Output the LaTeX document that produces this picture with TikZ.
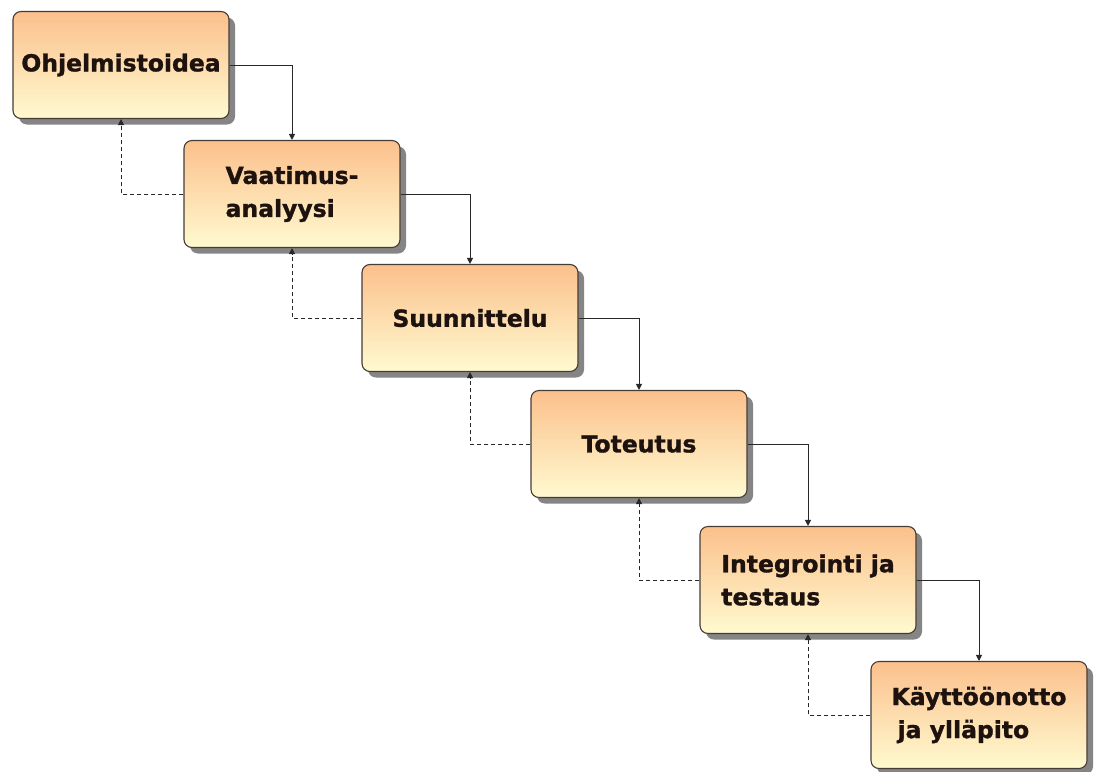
\documentclass[tikz,border=0pt]{standalone}
\usepackage{fontspec}
\setmainfont{DejaVu Sans}[BoldFeatures={FakeBold=1.3}]
\usetikzlibrary{arrows.meta,shadows}
\definecolor{boxtop}{RGB}{251,192,140}
\definecolor{boxbot}{RGB}{255,250,208}
\definecolor{boxedge}{RGB}{70,60,55}
\definecolor{linecol}{RGB}{40,40,40}
\definecolor{txtcol}{RGB}{30,18,15}
\begin{document}
\begin{tikzpicture}[x=1pt,y=-1pt,
  wbox/.style={draw=boxedge, line width=1.1pt, rounded corners=8pt,
    top color=boxtop, bottom color=boxbot,
    minimum width=216pt, minimum height=107pt, inner sep=0pt,
    align=left, text=txtcol,
    font=\fontsize{23.5}{33}\selectfont\bfseries,
    drop shadow={shadow xshift=6pt, shadow yshift=-6pt, fill=black!48, opacity=1}},
  flow/.style={draw=linecol, line width=1pt, -{Triangle[length=6pt,width=6pt]}},
  back/.style={draw=linecol, line width=1pt, dash pattern=on 4pt off 3pt,
    -{Triangle[length=6pt,width=6pt]}}]
  \useasboundingbox[fill=white] (0,0) rectangle (1094,771);

  % phases of the waterfall
  \node[wbox] (b1) at (121,65)  {Ohjelmistoidea};
  \node[wbox] (b2) at (292,194) {Vaatimus-\\analyysi};
  \node[wbox] (b3) at (470,318) {Suunnittelu};
  \node[wbox] (b4) at (639,444) {Toteutus};
  \node[wbox] (b5) at (808,580) {Integrointi ja\\testaus};
  \node[wbox] (b6) at (979,715) {Käyttöönotto\\\hspace*{6pt}ja ylläpito};

  % forward flow
  \draw[flow] (b1.east) -| (b2.north);
  \draw[flow] (b2.east) -| (b3.north);
  \draw[flow] (b3.east) -| (b4.north);
  \draw[flow] (b4.east) -| (b5.north);
  \draw[flow] (b5.east) -| (b6.north);

  % feedback to the previous phase
  \draw[back] (b2.west) -| (b1.south);
  \draw[back] (b3.west) -| (b2.south);
  \draw[back] (b4.west) -| (b3.south);
  \draw[back] (b5.west) -| (b4.south);
  \draw[back] (b6.west) -| (b5.south);
\end{tikzpicture}
\end{document}
